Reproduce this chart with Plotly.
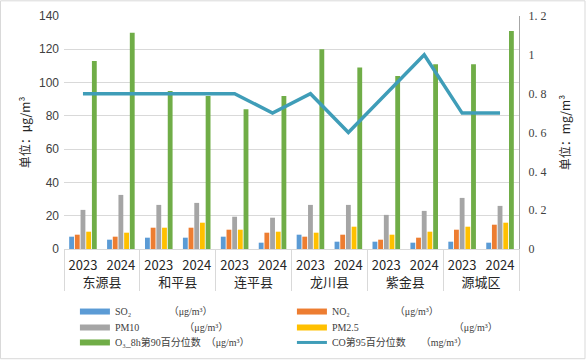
import plotly.graph_objects as go
from plotly.subplots import make_subplots

districts = ["东源县", "和平县", "连平县", "龙川县", "紫金县", "源城区"]
years = ["2023", "2024"]

so2 = [7.4, 5.6, 6.8, 6.8, 7.4, 3.8, 8.6, 4.4, 4.4, 3.8, 4.4, 3.8]
no2 = [8.6, 7.4, 12.8, 12.8, 11.6, 9.8, 7.4, 8.6, 5.6, 6.8, 11.6, 14.6]
pm10 = [23.5, 32.5, 26.5, 27.7, 19.4, 18.8, 26.5, 26.5, 20.5, 22.9, 30.7, 25.9]
pm25 = [10.4, 9.8, 12.8, 15.8, 11.6, 10.4, 9.8, 13.4, 8.6, 10.4, 13.4, 15.8]
o3 = [113, 130, 95, 92, 84, 92, 120, 109, 104, 111, 111, 131]
co = [0.8, 0.8, 0.8, 0.8, 0.8, 0.7, 0.8, 0.6, 0.8, 1.0, 0.7, 0.7]

left_ticks = [0, 20, 40, 60, 80, 100, 120, 140]
right_ticks = [0, 0.2, 0.4, 0.6, 0.8, 1.0, 1.2]
right_ticktext = ["0", "0. 2", "0. 4", "0. 6", "0. 8", "1", "1. 2"]

NB = "\u00a0"
bar_series = [
    ("SO₂" + NB * 15 + "（μg/m³）", so2, "#5B9BD5", "legend"),
    ("NO₂" + NB * 18 + "（μg/m³）", no2, "#ED7D31", "legend"),
    ("PM10" + NB * 18 + "（μg/m³）", pm10, "#A5A5A5", "legend2"),
    ("PM2.5" + NB * 38 + "（μg/m³）", pm25, "#FFC000", "legend2"),
    ("O₃_8h第90百分位数" + NB * 2 + "（μg/m³）", o3, "#70AD47", "legend3"),
]
co_name = "CO第95百分位数" + NB * 6 + "（mg/m³）"
co_color = "#3F9DB8"

xcat = [[d for d in districts for _ in years], [y for _ in districts for y in years]]

fig = make_subplots(specs=[[{"secondary_y": True}]])

for name, vals, col, lg in bar_series:
    fig.add_trace(go.Bar(x=xcat, y=vals, name=name, marker_color=col,
                         marker_line_width=0, showlegend=False), secondary_y=False)

fig.add_trace(go.Scatter(x=xcat, y=co, name=co_name, mode="lines",
                         line=dict(color=co_color, width=3.5), showlegend=False),
              secondary_y=True)

# legend entries (wide swatches like the original)
for name, vals, col, lg in bar_series:
    fig.add_trace(go.Scatter(x=[None], y=[None], name=name, mode="lines", legend=lg,
                             line=dict(color=col, width=6)), secondary_y=False)
fig.add_trace(go.Scatter(x=[None], y=[None], name=co_name, mode="lines", legend="legend3",
                         line=dict(color=co_color, width=3)), secondary_y=True)

PH = 233.6
def leg(row_center_px):
    return dict(orientation="h", x=0.024, xanchor="left",
                y=-(row_center_px - 249.3) / PH, yanchor="middle",
                entrywidth=172, itemwidth=30,
                font=dict(family="Liberation Serif, Noto Sans CJK SC, serif", size=10, color="#404040"),
                bgcolor="rgba(0,0,0,0)")

fig.update_layout(
    width=588, height=362,
    margin=dict(l=64, r=69, t=16, b=113, autoexpand=False),
    paper_bgcolor="white", plot_bgcolor="white",
    barmode="group", bargap=0.25, bargroupgap=0.15,
    font=dict(family="Noto Sans CJK SC, Liberation Sans, sans-serif", size=12, color="#404040"),
    legend=leg(312), legend2=leg(328), legend3=leg(343),
    showlegend=True,
)

fig.update_xaxes(
    domain=[0, 1],
    type="multicategory",
    showline=True, linecolor="#D9D9D9", linewidth=1,
    showdividers=True, dividercolor="#D9D9D9", dividerwidth=1,
    ticks="", tickfont=dict(size=13, color="#262626"), ticklabelstandoff=4,
    showgrid=False, automargin=False,
)

fig.update_yaxes(
    range=[0, 140], tickvals=left_ticks, showgrid=True, gridcolor="#D9D9D9", gridwidth=1,
    zeroline=False, showline=False, automargin=False, ticklabelstandoff=4,
    tickfont=dict(family="Liberation Sans, sans-serif", size=12, color="#404040"),
    title=dict(text="单位：μg/m³", font=dict(size=12, color="#262626"), standoff=5),
    secondary_y=False,
)
fig.update_yaxes(
    range=[0, 1.2], tickvals=right_ticks, ticktext=right_ticktext, showgrid=False,
    zeroline=False, showline=True, linecolor="#A6A6A6", linewidth=1, automargin=False,
    ticklabelstandoff=6,
    tickfont=dict(family="Liberation Serif, serif", size=12, color="#404040"),
    title=dict(text="单位：mg/m³", font=dict(size=12, color="#262626"), standoff=16),
    secondary_y=True,
)

# outer chart frame
fig.add_shape(type="rect", xref="paper", yref="paper",
              x0=-63.5 / 455, x1=1 + 66 / 455, y0=-110 / PH, y1=1 + 15.2 / PH,
              line=dict(color="#D9D9D9", width=1), fillcolor="rgba(0,0,0,0)", layer="below")

fig.write_html("out.html", config={"responsive": False, "displayModeBar": False},
               post_script="document.body.style.margin='0';document.body.style.overflow='hidden';")
